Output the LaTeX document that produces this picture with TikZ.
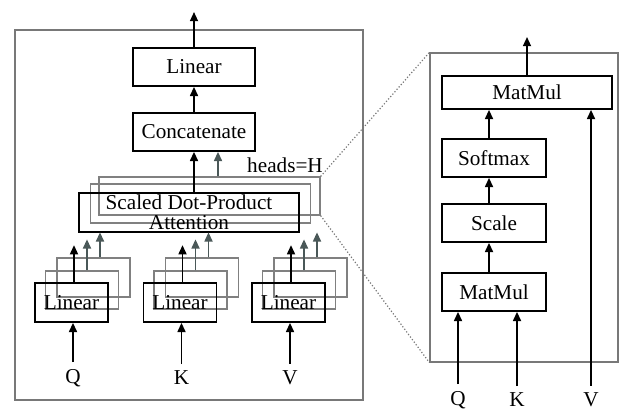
\documentclass[tikz,border=0pt]{standalone}
\usepackage{fontspec}
\setmainfont{Liberation Serif}
\usetikzlibrary{arrows.meta}
\definecolor{boxgray}{RGB}{128,128,128}
\definecolor{arrgray}{RGB}{74,88,88}
\definecolor{framegray}{RGB}{120,120,120}
\begin{document}
\begin{tikzpicture}[x=0.5pt,y=-0.5pt,
  font=\fontsize{10.6}{10}\selectfont,
  blk/.style={draw,line width=0.85pt,inner sep=0pt},
  gry/.style={draw=boxgray,line width=0.65pt,inner sep=0pt},
  frm/.style={draw=framegray,line width=0.9pt,inner sep=0pt},
  arr/.style={line width=0.85pt,-{Triangle[length=4.6pt,width=4pt]}},
  garr/.style={arr,draw=arrgray,fill=arrgray},
  dots/.style={densely dotted,draw=framegray,line width=0.6pt}]
\useasboundingbox (0,0) rectangle (619,409);

\node[frm,minimum width=174pt,minimum height=185pt] (lframe) at (189,215) {};
\node[frm,line width=0.6pt,minimum width=94pt,minimum height=154.5pt] (rframe) at (524,207.5) {};

\node[blk,minimum width=61pt,minimum height=19pt] (lin) at (194,67) {Linear};
\node[blk,minimum width=61pt,minimum height=19pt] (cat) at (194,132) {Concatenate};
\coordinate (out) at (194,12);
\draw[arr] (lin) -- (out);
\draw[arr] (cat) -- (lin);

\node[gry,minimum width=110.5pt,minimum height=19pt] (att3) at (209.5,196) {};
\node[gry,minimum width=110pt,minimum height=19.5pt] (att2) at (200.5,203.5) {};
\node[blk,minimum width=110pt,minimum height=19.5pt,align=center] (att1) at (189,212.5) {Scaled Dot-Product\\Attention};
\node (heads) at (285,165) {heads=H};
\draw[arr] (att1.north -| cat) -- (cat.south);
\draw[garr] ([xshift=12pt]cat.south |- att3.north) -- ([xshift=12pt]cat.south);

\foreach \n/\x/\lab in {q/71.5/Q,k/180/K,v/288.5/V}{
  \node[gry,minimum width=36.5pt,minimum height=19.5pt] (\n3) at (\x+22,277.5) {};
  \node[gry,minimum width=36.5pt,minimum height=19pt] (\n2) at (\x+10.5,290) {};
  \node[blk,minimum width=36.5pt,minimum height=19.5pt] (\n1) at (\x,302.5) {Linear};
  \draw[arr] ([xshift=1.25pt]\n1.north) -- ++(0,-37);
  \draw[garr] ([xshift=2.5pt]\n2.north) -- ++(0,-31);
  \draw[garr] ([xshift=3.25pt]\n3.north) -- ++(0,-25);
  \node (in\lab) at (\x+1.5,378) {\lab};
  \draw[arr] (in\lab) -- (in\lab |- \n1.south);
}

\node[blk,minimum width=85pt,minimum height=16.5pt] (mm2) at (527,92.5) {MatMul};
\node[blk,minimum width=52pt,minimum height=19pt] (soft) at (494,158) {Softmax};
\node[blk,minimum width=52pt,minimum height=19pt] (scale) at (494,223) {Scale};
\node[blk,minimum width=52pt,minimum height=19pt] (mm1) at (494,292) {MatMul};
\coordinate (out2) at (527,37);
\draw[arr] (mm2) -- (out2);
\draw[arr] ([xshift=-2.5pt]mm1.north) -- ([xshift=-2.5pt]scale.south);
\draw[arr] ([xshift=-2.5pt]scale.north) -- ([xshift=-2.5pt]soft.south);
\draw[arr] ([xshift=-2.5pt]soft.north) -- ([xshift=-2.5pt]soft.north |- mm2.south);

\node (rQ) at (458,400) {Q};
\node (rK) at (517,400) {K};
\node (rV) at (591,400) {V};
\draw[arr] (rQ) -- (rQ |- mm1.south);
\draw[arr] (rK) -- (rK |- mm1.south);
\draw[arr] (rV) -- (rV |- mm2.south);

\draw[dots] (att3.north east) -- (rframe.north west);
\draw[dots] (att3.south east) -- (rframe.south west);
\end{tikzpicture}
\end{document}
